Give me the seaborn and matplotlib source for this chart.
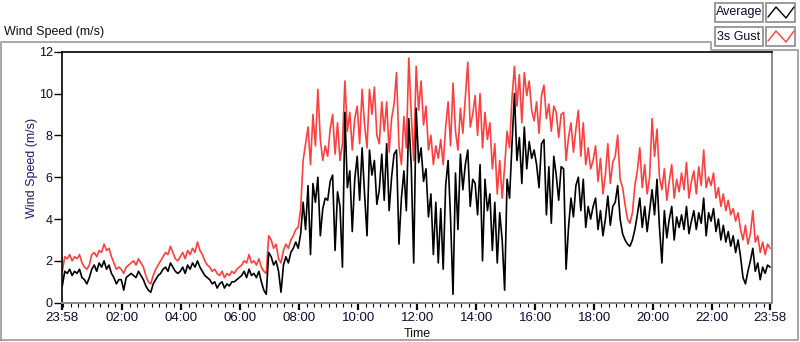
import numpy as np
import pandas as pd
import matplotlib
matplotlib.use("Agg")
import matplotlib.pyplot as plt
import seaborn as sns
from matplotlib.patches import Rectangle
from matplotlib.lines import Line2D

# ---------------- data (5-minute samples from 23:58 to 23:58 next day) ----------------
gust = [
    # 23:58
    1.5, 2.2, 2.1, 2.3, 2.0, 2.2, 2.1, 2.3, 1.9, 1.7, 1.6, 1.8,
    # 00:58
    2.3, 2.4, 2.2, 2.5, 2.4, 2.8, 2.5, 2.6, 2.2, 1.9, 1.6, 1.7,
    # 01:58
    1.6, 1.4, 1.7, 1.8, 1.9, 2.0, 1.8, 2.1, 1.9, 1.7, 1.3, 1.0,
    # 02:58
    0.9, 1.3, 1.6, 1.8, 2.0, 2.2, 2.4, 2.3, 2.7, 2.4, 2.1, 2.0,
    # 03:58
    2.2, 2.4, 2.1, 2.5, 2.3, 2.6, 2.4, 2.9, 2.5, 2.3, 2.0, 1.8,
    # 04:58
    1.7, 1.5, 1.6, 1.4, 1.3, 1.5, 1.2, 1.4, 1.3, 1.5, 1.4, 1.6,
    # 05:58
    1.7, 1.8, 2.0, 1.9, 2.3, 1.9, 2.0, 1.8, 2.1, 1.7, 1.5, 1.4,
    # 06:58
    3.2, 3.0, 2.6, 2.8, 2.1, 1.9, 2.5, 2.8, 2.6, 3.0, 3.2, 3.5,
    # 07:58
    3.6, 4.5, 6.8, 7.6, 8.4, 6.6, 9.0, 7.5, 10.2, 7.8, 6.8, 7.5,
    # 08:58
    7.0, 8.3, 9.0, 7.1, 8.6, 6.8, 7.6, 10.6, 8.2, 9.1, 7.3, 8.8,
    # 09:58
    9.4, 7.6, 10.2, 8.5, 7.4, 10.2, 9.0, 10.3, 8.0, 7.6, 9.6, 8.2,
    # 10:58
    9.6, 7.2, 8.8, 9.5, 11.0, 7.5, 6.6, 8.9, 7.4, 11.7, 9.0, 6.8,
    # 11:58
    11.3, 9.2, 10.6, 8.5, 9.4, 7.3, 8.0, 6.6, 7.5, 6.9, 7.8, 6.6,
    # 12:58
    8.4, 9.6, 7.5, 10.5, 8.2, 7.3, 9.3, 8.1, 9.8, 11.5, 8.4, 9.0,
    # 13:58
    9.9, 8.0, 10.0, 7.4, 9.1, 7.8, 8.6, 6.4, 7.6, 5.2, 6.8, 5.0,
    # 14:58
    6.5, 8.2, 7.4, 9.8, 11.3, 9.4, 10.9, 8.6, 11.0, 9.9, 10.6, 9.2,
    # 15:58
    8.7, 9.6, 8.1, 9.9, 10.4, 8.8, 9.5, 8.2, 9.4, 9.1, 7.9, 9.0,
    # 16:58
    9.1, 6.8, 7.9, 8.6, 7.2, 8.3, 9.2, 7.0, 8.6, 6.6, 7.4, 6.4,
    # 17:58
    6.8, 7.5, 5.8, 6.9, 5.2, 6.1, 7.6, 5.7, 6.7, 7.0, 8.0, 5.9,
    # 18:58
    5.5, 4.7, 4.0, 3.8, 4.3, 5.6, 6.3, 7.4, 5.5, 6.6, 5.2, 6.0,
    # 19:58
    8.8, 7.0, 8.3, 6.0, 5.4, 6.4, 4.9, 5.8, 6.6, 5.0, 5.9, 5.3,
    # 20:58
    6.2, 5.4, 6.7, 5.0, 5.8, 6.3, 5.2, 6.5, 5.6, 7.3, 5.5, 6.0,
    # 21:58
    5.6, 6.2, 5.0, 5.5, 4.6, 5.2, 4.4, 4.9, 4.2, 4.5, 3.9, 4.3,
    # 22:58 .. 23:58
    3.5, 3.0, 3.7, 2.8, 3.3, 4.4, 2.9, 3.2, 2.4, 2.9, 2.3, 2.8, 2.6,
]

average = [
    0.8, 1.5, 1.4, 1.6, 1.3, 1.5, 1.4, 1.6, 1.2, 1.1, 0.9, 1.2,
    1.6, 1.8, 1.5, 1.9, 1.7, 2.0, 1.6, 1.8, 1.4, 1.2, 0.9, 1.1,
    1.1, 0.6, 1.2, 1.3, 1.4, 1.3, 1.2, 1.5, 1.3, 1.1, 0.8, 0.6,
    0.5, 0.9, 1.1, 1.3, 1.4, 1.6, 1.7, 1.5, 1.9, 1.7, 1.5, 1.4,
    1.5, 1.7, 1.4, 1.8, 1.6, 1.9, 1.7, 2.0, 1.7, 1.5, 1.3, 1.2,
    1.1, 0.9, 1.0, 0.7, 0.9, 1.0, 0.7, 0.9, 0.8, 1.0, 1.0, 1.1,
    1.2, 1.3, 1.5, 1.2, 1.6, 1.3, 1.4, 1.2, 1.5, 1.0, 0.6, 0.4,
    2.4, 2.2, 1.8, 2.0, 1.5, 0.5, 1.8, 2.2, 1.9, 2.4, 2.6, 2.9,
    2.6, 3.3, 4.8, 3.5, 5.6, 2.3, 5.7, 4.8, 6.0, 3.2, 4.5, 5.0,
    4.9, 5.8, 6.1, 2.5, 5.3, 4.6, 1.7, 9.1, 5.5, 6.3, 3.4, 5.9,
    7.0, 4.9, 7.4, 5.2, 3.2, 7.3, 6.1, 6.8, 4.7, 5.4, 7.1, 4.9,
    7.6, 4.4, 6.0, 7.1, 7.3, 2.8, 5.0, 6.3, 4.4, 8.8, 6.5, 1.9,
    9.3, 6.7, 7.4, 5.8, 6.4, 4.1, 5.2, 2.3, 4.8, 1.9, 4.5, 1.6,
    5.6, 6.8, 4.0, 0.4, 6.2, 3.5, 7.1, 5.4, 6.6, 7.3, 4.6, 5.9,
    5.7, 4.2, 6.6, 2.0, 5.9, 4.4, 5.2, 2.5, 4.8, 1.9, 4.3, 3.0,
    0.6, 5.9, 5.0, 7.6, 10.0, 6.8, 7.9, 5.7, 8.4, 6.4, 7.7, 6.9,
    7.3, 6.6, 5.5, 7.6, 7.8, 4.2, 6.5, 3.8, 7.0, 6.1, 4.9, 6.5,
    6.4, 1.6, 3.6, 5.0, 4.1, 5.6, 6.0, 4.4, 5.9, 3.6, 4.6, 4.0,
    4.6, 5.0, 3.5, 4.4, 3.2, 4.0, 5.1, 3.7, 4.6, 4.8, 5.6, 4.0,
    3.3, 3.0, 2.8, 2.7, 3.0, 3.5, 4.2, 5.0, 3.6, 4.6, 3.4, 4.4,
    5.4, 4.2, 5.9, 3.6, 1.9, 4.4, 3.1, 4.0, 4.6, 3.0, 4.1, 3.6,
    4.2, 3.5, 4.6, 3.3, 3.9, 4.4, 3.5, 4.3, 3.8, 5.0, 3.2, 4.3,
    3.9, 4.5, 3.4, 4.0, 3.0, 3.7, 2.9, 3.4, 2.7, 3.2, 2.4, 3.0,
    2.2, 1.2, 0.9, 1.5, 2.0, 2.6, 1.5, 1.9, 1.1, 1.7, 1.4, 1.8, 1.7,
]

start = pd.Timestamp("2015-06-01 23:58")
times = pd.date_range(start, periods=len(gust), freq="5min")

tick_labels = ["23:58", "02:00", "04:00", "06:00", "08:00", "10:00", "12:00",
               "14:00", "16:00", "18:00", "20:00", "22:00", "23:58"]
y_ticks = [0, 2, 4, 6, 8, 10, 12]

df = pd.DataFrame({"Time": times, "Average": average, "3s Gust": gust})

# ---------------- figure ----------------
sns.set_theme(style="white")
plt.rcParams["font.family"] = ["Liberation Sans", "DejaVu Sans"]

W, H = 800, 342
fig = plt.figure(figsize=(W / 100, H / 100), dpi=100)
fig.patch.set_facecolor("white")

def fx(x):
    return x / W

def fy(y):
    return 1 - y / H

ax = fig.add_axes([fx(62.3), fy(302.7), (772 - 62.3) / W, (302.7 - 51.7) / H])
ax.set_facecolor("white")

RED = "#ff4040"
sns.lineplot(data=df, x="Time", y="3s Gust", color=RED, lw=1.2, ax=ax, estimator=None)
sns.lineplot(data=df, x="Time", y="Average", color="black", lw=1.2, ax=ax, estimator=None)

# axes limits and ticks
tick_pos = [start] + [pd.Timestamp(f"2015-06-02 {lbl}") for lbl in tick_labels[1:-1]] + [start + pd.Timedelta(hours=24)]
ax.set_xlim(start, start + pd.Timedelta(minutes=1444))
ax.set_ylim(0, 12)
ax.set_xticks(tick_pos)
ax.set_xticklabels(tick_labels)
minor = [start + pd.Timedelta(minutes=2 + 15 * k) for k in range(96)]
minor = [m for m in minor if m not in tick_pos]
ax.set_xticks(minor, minor=True)
ax.set_yticks(y_ticks)
ax.set_yticklabels([str(v) for v in y_ticks])
ax.set_xlabel("")
ax.set_ylabel("")

ax.tick_params(axis="x", which="major", direction="out", length=5, width=1.6,
               color="black", labelcolor="#0a0a30", labelsize=9, pad=2, bottom=True)
ax.tick_params(axis="x", which="minor", direction="out", length=3, width=0.8,
               color="black", bottom=True)
ax.tick_params(axis="y", which="major", direction="out", length=6, width=1,
               color="black", labelcolor="#0a0a30", labelsize=9, pad=1, left=True)
for lbl in ax.get_xticklabels():
    lbl.set_family(["Liberation Sans Narrow", "Liberation Sans", "DejaVu Sans"])
    lbl.set_fontsize(9.5)

for side in ["left", "top"]:
    ax.spines[side].set_color("black")
    ax.spines[side].set_linewidth(1.2)
for side in ["right", "bottom"]:
    ax.spines[side].set_color("#8a8a8a")
    ax.spines[side].set_linewidth(1.4)
ax.grid(False)

# texts
fig.text(fx(4), fy(32), "Wind Speed (m/s)", ha="left", va="center", fontsize=9, color="#101010")
fig.text(fx(32), fy(168), "Wind Speed (m/s)", rotation=90, ha="center", va="center",
         fontsize=9, color="#1c1c5c")
fig.text(fx(417), fy(334), "Time", ha="center", va="center", fontsize=9, color="#101010")

# outer panel border
bx = [1, 1, 711, 711, 798, 798, 1]
by = [340, 42, 42, 50, 50, 340, 340]
fig.add_artist(Line2D([fx(v) for v in bx], [fy(v) for v in by], color="#9a9a9a", lw=1.2,
                      transform=fig.transFigure))

# legend boxes
def box(x0, y0, x1, y1):
    fig.add_artist(Rectangle((fx(x0), fy(y1)), fx(x1) - fx(x0), fy(y0) - fy(y1),
                             transform=fig.transFigure, facecolor="white",
                             edgecolor="#8a8a8a", lw=1.2))

series_names = ["Average", "3s Gust"]
series_colors = ["black", RED]
for i, (name, col) in enumerate(zip(series_names, series_colors)):
    y0 = 3 + i * 24
    y1 = y0 + 19
    box(715, y0, 763, y1)
    box(766, y0, 795, y1)
    fig.text(fx(739), fy((y0 + y1) / 2), name, ha="center", va="center", fontsize=9,
             color="#0a0a30")
    zx = [768, 776, 786, 794]
    zy = [y0 + 14, y0 + 4, y0 + 15, y0 + 4]
    fig.add_artist(Line2D([fx(v) for v in zx], [fy(v) for v in zy], color=col, lw=1,
                          transform=fig.transFigure))

fig.savefig("out.png", dpi=100, facecolor="white")
